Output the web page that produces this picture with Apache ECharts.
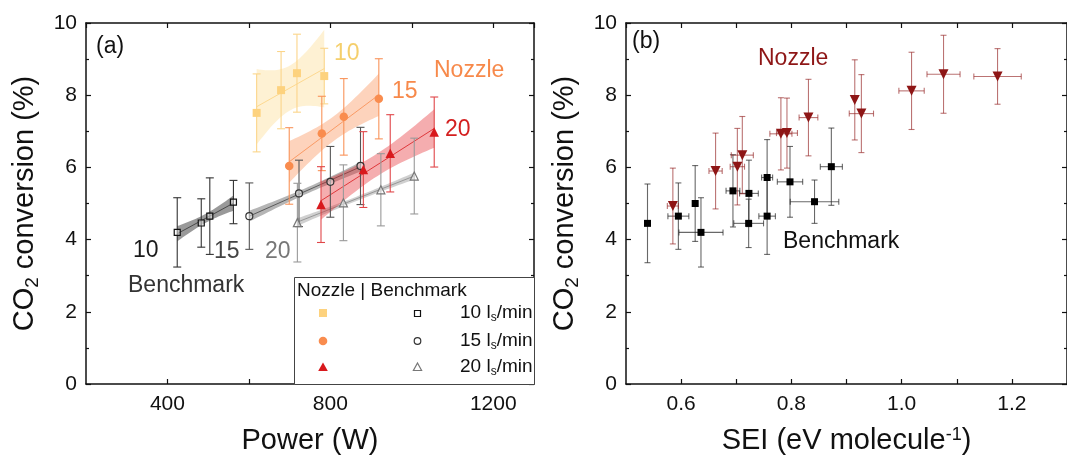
<!DOCTYPE html>
<html><head><meta charset="utf-8">
<script src="https://cdn.jsdelivr.net/npm/echarts@6/dist/echarts.min.js"></script>
<style>html,body{margin:0;padding:0;background:#fff}#c{width:1067px;height:462px}</style>
</head><body><div id="c"></div>
<script>
// ---------- Panel (a): Power (W) vs CO2 conversion (%) ----------
const nozzle10Power = [619, 679, 718, 785];
const nozzle10Conv  = [7.51, 8.14, 8.61, 8.53];
const nozzle10Err   = [1.08, 1.07, 1.08, 0.77];

const nozzle15Power = [699, 779, 833, 919];
const nozzle15Conv  = [6.04, 6.94, 7.40, 7.90];
const nozzle15Err   = [1.06, 1.03, 1.06, 1.11];

const nozzle20Power = [777, 881, 947, 1055];
const nozzle20Conv  = [4.97, 5.94, 6.39, 6.98];
const nozzle20Err   = [1.05, 1.05, 1.07, 0.97];

const bench10Power = [424, 483, 504, 562];
const bench10Conv  = [4.20, 4.46, 4.65, 5.04];
const bench10Err   = [0.96, 0.67, 1.06, 0.60];

const bench15Power = [601, 723, 800, 874];
const bench15Conv  = [4.65, 5.28, 5.60, 6.04];
const bench15Err   = [0.92, 0.92, 0.98, 1.07];

const bench20Power = [719, 832, 924, 1006];
const bench20Conv  = [4.47, 5.02, 5.38, 5.76];
const bench20Err   = [1.09, 1.05, 1.00, 1.05];

// ---------- Panel (b): SEI (eV/molecule) vs CO2 conversion (%) ----------
const nozzleSEI     = [0.585, 0.6625, 0.702, 0.711, 0.781, 0.792, 0.831, 0.915, 0.927, 1.018, 1.076, 1.174];
const nozzleSEIConv = [4.93, 5.90, 6.02, 6.34, 6.93, 6.95, 7.38, 7.87, 7.49, 8.12, 8.58, 8.52];
const nozzleSEIyErr = [1.05, 1.05, 1.06, 1.07, 1.00, 0.97, 1.06, 1.11, 1.08, 1.07, 1.08, 0.77];
const nozzleSEIxErr = [0.010, 0.012, 0.013, 0.020, 0.020, 0.019, 0.017, 0, 0.022, 0.023, 0.030, 0.043];

const benchSEI     = [0.539, 0.595, 0.6255, 0.636, 0.694, 0.723, 0.7225, 0.756, 0.756, 0.7975, 0.842, 0.8725];
const benchSEIConv = [4.45, 4.65, 5.00, 4.20, 5.35, 5.28, 4.45, 5.72, 4.65, 5.60, 5.05, 6.02];
const benchSEIyErr = [1.09, 0.92, 1.05, 0.96, 1.00, 0.92, 0.67, 1.05, 1.06, 0.98, 0.60, 1.07];
const benchSEIxErr = [0, 0.019, 0, 0.040, 0.0125, 0.017, 0.027, 0.010, 0.015, 0.023, 0.044, 0.020];

// tick label sets
const powerTickLabels = [400, 800, 1200];
const seiTickLabels = [0.6, 0.8, 1.0, 1.2];

// Student t (95%, two-sided) for df = 1..6
const T95 = [12.706, 4.303, 3.182, 2.776, 2.571, 2.447];

const FONT = '"Liberation Sans", Arial, Helvetica, sans-serif';

function linFit(xs, ys) {
  const n = xs.length;
  const mx = xs.reduce((a, b) => a + b, 0) / n;
  const my = ys.reduce((a, b) => a + b, 0) / n;
  let sxx = 0, sxy = 0;
  for (let i = 0; i < n; i++) { sxx += (xs[i] - mx) ** 2; sxy += (xs[i] - mx) * (ys[i] - my); }
  const b = sxy / sxx, a = my - b * mx;
  let sse = 0;
  for (let i = 0; i < n; i++) sse += (ys[i] - a - b * xs[i]) ** 2;
  const s = Math.sqrt(sse / (n - 2));
  return { a, b, mx, sxx, s, n, t: T95[n - 3], x0: Math.min(...xs), x1: Math.max(...xs) };
}

function bandSeries(xs, ys, fill, stroke) {
  const f = linFit(xs, ys);
  return {
    type: 'custom', xAxisIndex: 0, yAxisIndex: 0, z: 1, silent: true, clip: false,
    data: [[f.x0, f.a + f.b * f.x0]],
    renderItem: function (params, api) {
      const N = 30, up = [], lo = [];
      for (let i = 0; i <= N; i++) {
        const x = f.x0 + (f.x1 - f.x0) * i / N;
        const yh = f.a + f.b * x;
        const h = f.t * f.s * Math.sqrt(1 / f.n + (x - f.mx) ** 2 / f.sxx);
        up.push(api.coord([x, yh + h]));
        lo.push(api.coord([x, yh - h]));
      }
      return {
        type: 'group', children: [
          { type: 'polygon', shape: { points: up.concat(lo.reverse()) }, style: { fill: fill } },
          { type: 'polyline', shape: { points: [api.coord([f.x0, f.a + f.b * f.x0]), api.coord([f.x1, f.a + f.b * f.x1])] },
            style: { stroke: stroke, lineWidth: 0.8, fill: null } }
        ]
      };
    }
  };
}

function errSeries(axis, xs, ys, yerr, xerr, color, cap) {
  return {
    type: 'custom', xAxisIndex: axis, yAxisIndex: axis, z: 2, silent: true, clip: false,
    data: xs.map((x, i) => [x, ys[i], yerr[i], xerr ? xerr[i] : 0]),
    renderItem: function (params, api) {
      const x = api.value(0), y = api.value(1), ey = api.value(2), ex = api.value(3);
      const t = api.coord([x, y + ey]), b = api.coord([x, y - ey]);
      const st = { stroke: color, lineWidth: 1.1 };
      const ch = [
        { type: 'line', shape: { x1: t[0], y1: t[1], x2: b[0], y2: b[1] }, style: st },
        { type: 'line', shape: { x1: t[0] - cap, y1: t[1], x2: t[0] + cap, y2: t[1] }, style: st },
        { type: 'line', shape: { x1: b[0] - cap, y1: b[1], x2: b[0] + cap, y2: b[1] }, style: st }
      ];
      if (ex > 0) {
        const l = api.coord([x - ex, y]), r = api.coord([x + ex, y]);
        ch.push({ type: 'line', shape: { x1: l[0], y1: l[1], x2: r[0], y2: r[1] }, style: st });
        ch.push({ type: 'line', shape: { x1: l[0], y1: l[1] - cap, x2: l[0], y2: l[1] + cap }, style: st });
        ch.push({ type: 'line', shape: { x1: r[0], y1: r[1] - cap, x2: r[0], y2: r[1] + cap }, style: st });
      }
      return { type: 'group', children: ch };
    }
  };
}

function scat(axis, xs, ys, symbol, size, fill, border, bw, rot) {
  return {
    type: 'scatter', xAxisIndex: axis, yAxisIndex: axis, z: 3, silent: true,
    symbol: symbol, symbolSize: size, symbolRotate: rot || 0,
    itemStyle: { color: fill, borderColor: border || fill, borderWidth: bw || 0, opacity: 1 },
    data: xs.map((x, i) => [x, ys[i]])
  };
}

const C_N10 = '#FDD27E', C_N15 = '#F98C4E', C_N20 = '#D8191D', C_DR = '#8E1616';

const axisLineSt = { show: true, onZero: false, lineStyle: { color: '#111', width: 1.5 } };
const tickSt = { show: true, inside: true, length: 5, lineStyle: { color: '#111', width: 1.2 } };
const minorSt = { show: true, splitNumber: 2, length: 3, lineStyle: { color: '#111', width: 1.2 } };
const labelSt = { color: '#111', fontSize: 21, fontFamily: FONT };
const nameSt = { color: '#111', fontSize: 29, fontFamily: FONT };

function xAx(grid, pos, min, max, interval, fmt, name, rich) {
  return {
    type: 'value', gridIndex: grid, position: pos, min: min, max: max, interval: interval,
    axisLine: axisLineSt, axisTick: tickSt, splitLine: { show: false },
    axisLabel: Object.assign({ show: !!fmt, margin: 10, formatter: fmt, showMaxLabel: false, showMinLabel: false }, labelSt),
    name: name || '', nameLocation: 'middle', nameGap: 42,
    nameTextStyle: Object.assign({ rich: rich || {} }, nameSt)
  };
}
function yAx(grid, pos, showLabel, name) {
  return {
    type: 'value', gridIndex: grid, position: pos, min: 0, max: 10, interval: 2,
    axisLine: axisLineSt, axisTick: tickSt, minorTick: minorSt, splitLine: { show: false }, minorSplitLine: { show: false },
    axisLabel: Object.assign({ show: showLabel, margin: 9 }, labelSt),
    name: name || '', nameLocation: 'middle', nameGap: 44, nameRotate: 90,
    nameTextStyle: Object.assign({
      rich: {
        a: { fontSize: 29, fontFamily: FONT, color: '#111', lineHeight: 34 },
        s: { fontSize: 19, fontFamily: FONT, color: '#111', verticalAlign: 'bottom', lineHeight: 34, padding: [14, 0, 0, 0] }
      }
    }, nameSt)
  };
}

const powerFmt = v => (powerTickLabels.indexOf(Math.round(v)) >= 0 ? String(Math.round(v)) : '');
const seiFmt = v => { const r = Math.round(v * 10) / 10; return seiTickLabels.some(t => Math.abs(t - r) < 1e-6) ? r.toFixed(1) : ''; };

const yName = '{a|CO}{s|2}{a| conversion (%)}';

function txt(x, y, text, color, size, align) {
  return { type: 'text', z: 50, x: x, y: y,
    style: { text: text, fill: color, font: (size || 23) + 'px ' + FONT, textAlign: align || 'left', textVerticalAlign: 'middle', verticalAlign: 'middle' } };
}
function lsText(x, y, flow) {
  return { type: 'text', z: 60, x: x, y: y,
    style: { text: '{m|' + flow + ' l}{s|s}{m|/min}', textVerticalAlign: 'middle', verticalAlign: 'middle',
      rich: { m: { fontSize: 19, fontFamily: FONT, fill: '#111', color: '#111', lineHeight: 22 },
              s: { fontSize: 12, fontFamily: FONT, fill: '#111', color: '#111', lineHeight: 22, verticalAlign: 'bottom', padding: [9, 0, 0, 0] } } } };
}

const option = {
  animation: false,
  backgroundColor: '#fff',
  grid: [
    { left: 86, top: 23, width: 448, height: 361 },
    { left: 626, top: 23, width: 448, height: 361 }
  ],
  xAxis: [
    xAx(0, 'bottom', 200, 1300, 200, powerFmt, 'Power (W)'),
    xAx(1, 'bottom', 0.5, 1.3, 0.1, seiFmt, 'SEI (eV molecule{sup|-1})',
      { sup: { fontSize: 18, fontFamily: FONT, color: '#111', verticalAlign: 'top', padding: [0, 0, 12, 0] } }),
    xAx(0, 'top', 200, 1300, 200, null),
    xAx(1, 'top', 0.5, 1.3, 0.1, null)
  ],
  yAxis: [
    yAx(0, 'left', true, yName),
    yAx(1, 'left', true, yName),
    yAx(0, 'right', false),
    yAx(1, 'right', false)
  ],
  series: [
    // confidence bands + fits (panel a)
    bandSeries(bench10Power, bench10Conv, 'rgba(70,70,70,0.55)', '#333'),
    bandSeries(bench15Power, bench15Conv, 'rgba(90,90,90,0.45)', '#444'),
    bandSeries(bench20Power, bench20Conv, 'rgba(150,150,150,0.45)', '#888'),
    bandSeries(nozzle10Power, nozzle10Conv, 'rgba(253,215,130,0.35)', C_N10),
    bandSeries(nozzle15Power, nozzle15Conv, 'rgba(249,140,78,0.38)', C_N15),
    bandSeries(nozzle20Power, nozzle20Conv, 'rgba(228,40,44,0.38)', C_N20),
    // error bars (panel a)
    errSeries(0, bench10Power, bench10Conv, bench10Err, null, '#333', 4),
    errSeries(0, bench15Power, bench15Conv, bench15Err, null, '#555', 4),
    errSeries(0, bench20Power, bench20Conv, bench20Err, null, '#999', 4),
    errSeries(0, nozzle10Power, nozzle10Conv, nozzle10Err, null, '#FBD58A', 4),
    errSeries(0, nozzle15Power, nozzle15Conv, nozzle15Err, null, '#F9935A', 4),
    errSeries(0, nozzle20Power, nozzle20Conv, nozzle20Err, null, '#E04649', 4),
    // markers (panel a)
    scat(0, bench10Power, bench10Conv, 'rect', 6, 'rgba(255,255,255,0.45)', '#111', 1.2),
    scat(0, bench15Power, bench15Conv, 'circle', 7, 'rgba(255,255,255,0.45)', '#333', 1.2),
    scat(0, bench20Power, bench20Conv, 'triangle', 8, 'rgba(255,255,255,0.45)', '#777', 1.2),
    scat(0, nozzle10Power, nozzle10Conv, 'rect', 8, C_N10),
    scat(0, nozzle15Power, nozzle15Conv, 'circle', 8.5, C_N15),
    scat(0, nozzle20Power, nozzle20Conv, 'triangle', 9.5, C_N20),
    // panel b
    errSeries(1, benchSEI, benchSEIConv, benchSEIyErr, benchSEIxErr, 'rgba(40,40,40,0.7)', 3),
    errSeries(1, nozzleSEI, nozzleSEIConv, nozzleSEIyErr, nozzleSEIxErr, 'rgba(150,40,40,0.65)', 3),
    scat(1, benchSEI, benchSEIConv, 'rect', 7, '#000'),
    scat(1, nozzleSEI, nozzleSEIConv, 'triangle', 10, C_DR, C_DR, 0, 180)
  ],
  graphic: [
    txt(96, 47, '(a)', '#111', 23),
    txt(334, 54, '10', '#F5CF6C', 23),
    txt(434, 71, 'Nozzle', '#F7894A', 23),
    txt(392, 92, '15', '#F7894A', 23),
    txt(445, 130, '20', '#D41F1F', 23),
    txt(133, 251, '10', '#1a1a1a', 23),
    txt(214, 252, '15', '#444', 23),
    txt(265, 252, '20', '#777', 23),
    txt(128, 286, 'Benchmark', '#333', 23),
    txt(632, 42, '(b)', '#111', 23),
    txt(758, 59, 'Nozzle', C_DR, 23),
    txt(783, 242, 'Benchmark', '#111', 23),
    // legend box
    { type: 'rect', z: 40, shape: { x: 294.5, y: 277.5, width: 240, height: 107 }, style: { fill: '#fff', stroke: '#444', lineWidth: 1 } },
    txt(297, 291, 'Nozzle | Benchmark', '#111', 19),
    { type: 'rect', z: 60, shape: { x: 319, y: 309, width: 8, height: 8 }, style: { fill: C_N10 } },
    { type: 'rect', z: 60, shape: { x: 414.5, y: 310.5, width: 6, height: 6 }, style: { fill: '#fff', stroke: '#111', lineWidth: 1.2 } },
    { type: 'circle', z: 60, shape: { cx: 323, cy: 341, r: 4.3 }, style: { fill: C_N15 } },
    { type: 'circle', z: 60, shape: { cx: 417.5, cy: 341, r: 3.3 }, style: { fill: '#fff', stroke: '#333', lineWidth: 1.2 } },
    { type: 'polygon', z: 60, shape: { points: [[323, 362.5], [327.8, 371], [318.2, 371]] }, style: { fill: C_N20 } },
    { type: 'polygon', z: 60, shape: { points: [[417.5, 363], [421.6, 370.5], [413.4, 370.5]] }, style: { fill: '#fff', stroke: '#777', lineWidth: 1.2 } },
    lsText(460, 313, '10'),
    lsText(460, 341, '15'),
    lsText(460, 367, '20')
  ]
};

const chart = echarts.init(document.getElementById('c'), null, { renderer: 'canvas' });
chart.setOption(option);
</script>
</body></html>
